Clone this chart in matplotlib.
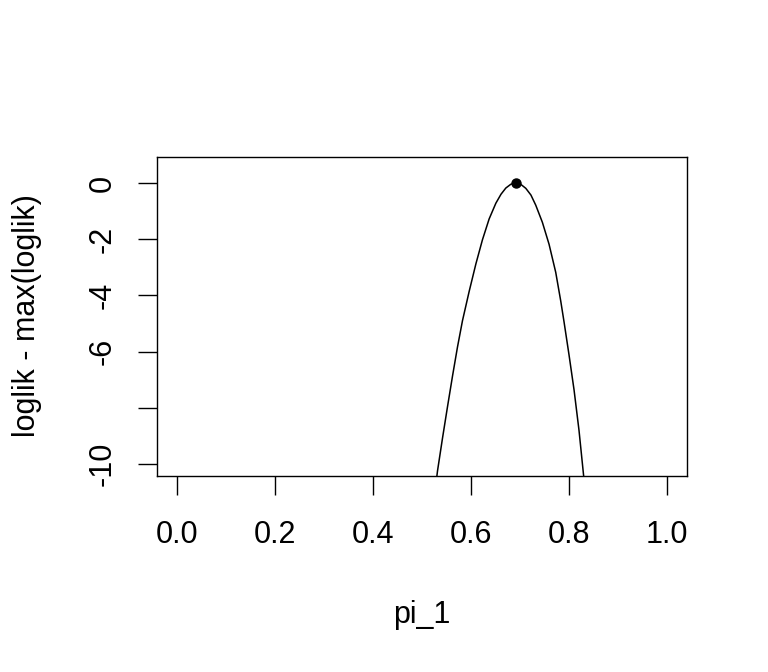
import matplotlib
matplotlib.use('Agg')
import matplotlib.pyplot as plt

# profile of the log-likelihood
pi_1 = [0.527, 0.5316, 0.5418, 0.5520, 0.5622, 0.5723, 0.5825, 0.5961,
        0.6098, 0.6232, 0.6368, 0.6505, 0.6610, 0.6708, 0.6810, 0.6912,
        0.7010, 0.7115, 0.7220, 0.7318, 0.7453, 0.7589, 0.7725, 0.7827,
        0.7894, 0.7996, 0.8098, 0.8199, 0.8287, 0.832]
loglik = [-10.9, -10.25, -9.08, -7.96, -6.87, -5.84, -4.90, -3.86,
          -2.88, -2.02, -1.28, -0.72, -0.40, -0.18, -0.045, 0.0,
          -0.044, -0.19, -0.43, -0.79, -1.40, -2.18, -3.18, -4.20,
          -4.94, -6.12, -7.36, -8.80, -10.31, -10.87]

mle_pi = 0.691
mle_ll = 0.0

x_ticks = [0.0, 0.2, 0.4, 0.6, 0.8, 1.0]
y_ticks = [0, -2, -4, -6, -8, -10]
y_labels = ['0', '-2', '-4', '-6', '', '-10']

plt.rcParams['font.family'] = ['Liberation Sans', 'DejaVu Sans']

fig = plt.figure(figsize=(7.68, 6.72), dpi=100)
ax = fig.add_axes([157 / 768, 1 - 476 / 672, 530 / 768, 319 / 672])

ax.plot(pi_1, loglik, color='black', lw=1.1)
ax.plot([mle_pi], [mle_ll], 'o', color='black', markersize=6.5)

ax.set_xlim(-0.04, 1.04)
ax.set_ylim(-10.43, 0.925)

ax.set_xticks(x_ticks)
ax.set_xticklabels(['%.1f' % t for t in x_ticks])
ax.set_yticks(y_ticks)
ax.set_yticklabels(y_labels, rotation=90, va='center')

ax.tick_params(axis='both', direction='out', length=13.5, width=1.0,
               labelsize=22, color='black')
ax.tick_params(axis='x', pad=18)
ax.tick_params(axis='y', pad=15)

for s in ax.spines.values():
    s.set_linewidth(1.0)
    s.set_color('black')

fig.text(422 / 768, 1 - 615 / 672, 'pi_1', fontsize=22,
         ha='center', va='center')
fig.text(27 / 768, 1 - 316 / 672, 'loglik - max(loglik)', fontsize=22,
         ha='center', va='center', rotation=90)

fig.savefig('out.png', dpi=100)
